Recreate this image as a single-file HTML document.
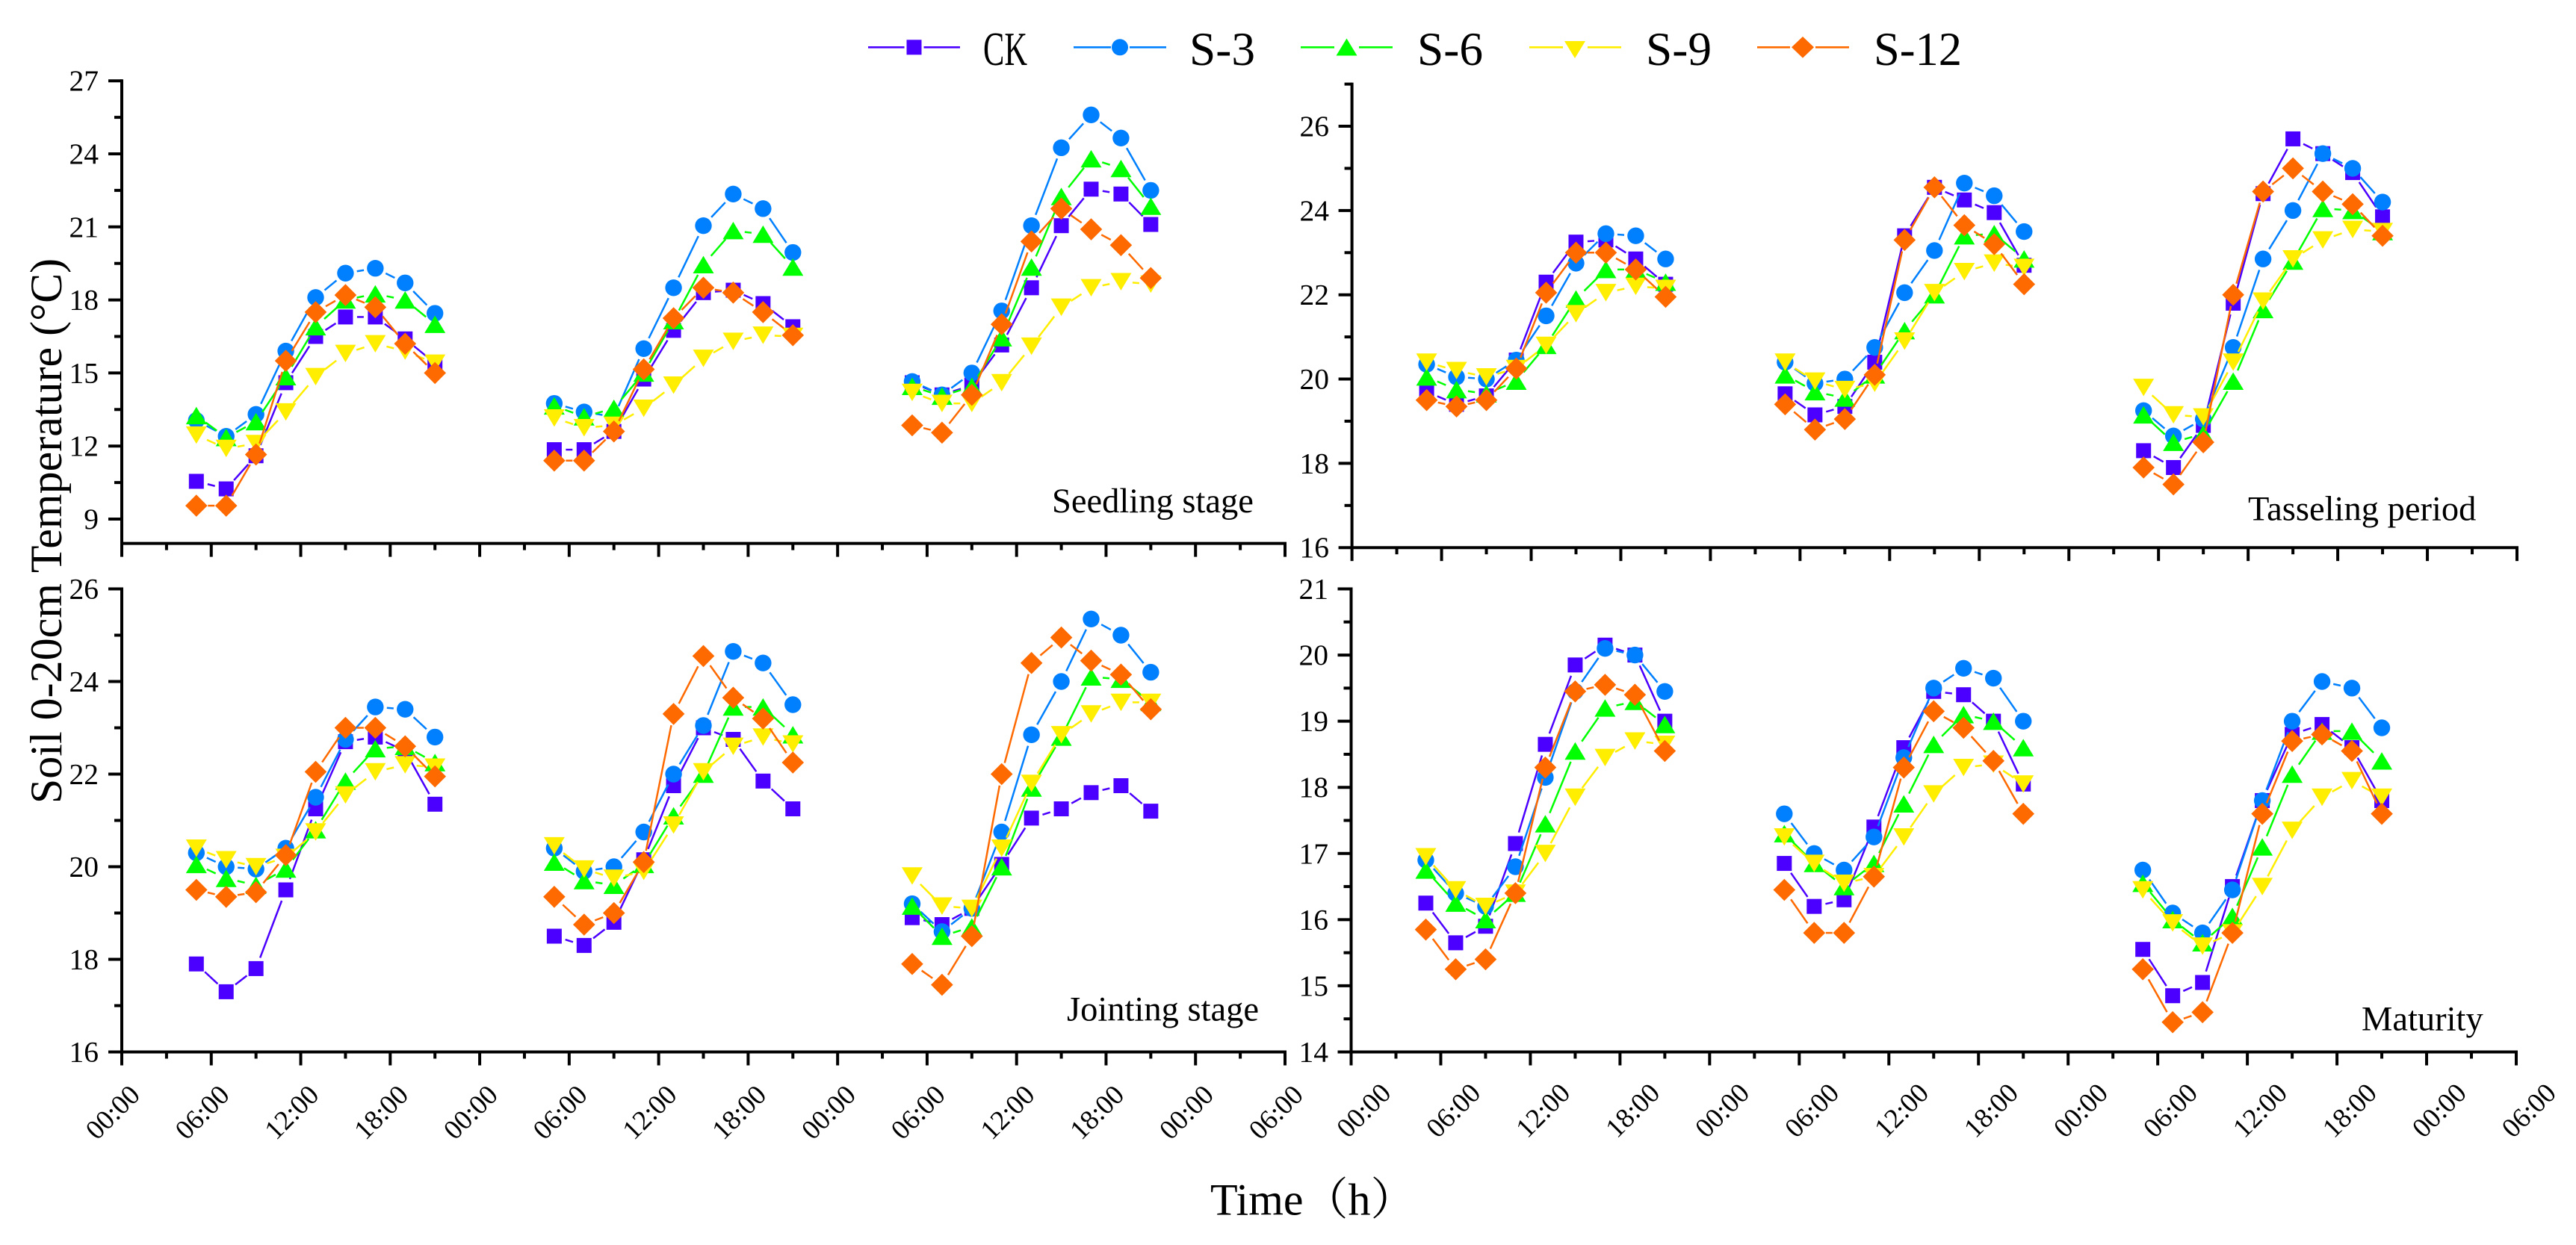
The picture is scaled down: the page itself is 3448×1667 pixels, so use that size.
<!DOCTYPE html>
<html lang="en">
<head>
<meta charset="utf-8">
<title>Soil 0-20cm Temperature by growth stage</title>
<style>
html,body{margin:0;padding:0;background:#fff;}
svg{display:block;}
text{font-family:"Liberation Serif","Noto Serif CJK SC",serif;fill:#000;}
</style>
</head>
<body>
<svg id="chart" xmlns="http://www.w3.org/2000/svg" width="3448" height="1667" viewBox="0 0 3448 1667">
  <rect x="0" y="0" width="3448" height="1667" fill="#ffffff"/>

  <g>
    <g>
      <line x1="1162" y1="63.3" x2="1210.5" y2="63.3" stroke="#4B00FF" stroke-width="2.6"/>
      <line x1="1236.5" y1="63.3" x2="1285" y2="63.3" stroke="#4B00FF" stroke-width="2.6"/>
      <rect x="1213.5" y="53.3" width="20" height="20" fill="#4B00FF"/>
      <text x="1316" y="87" font-size="64" textLength="59" lengthAdjust="spacingAndGlyphs">CK</text>
    </g>
    <g>
      <line x1="1437" y1="63.3" x2="1487" y2="63.3" stroke="#007FFF" stroke-width="2.6"/>
      <line x1="1512" y1="63.3" x2="1561" y2="63.3" stroke="#007FFF" stroke-width="2.6"/>
      <circle cx="1499" cy="63.3" r="11" fill="#007FFF"/>
      <text x="1592" y="87" font-size="64" textLength="88" lengthAdjust="spacingAndGlyphs">S-3</text>
    </g>
    <g>
      <line x1="1741" y1="63.3" x2="1786" y2="63.3" stroke="#00FF00" stroke-width="2.6"/>
      <line x1="1819" y1="63.3" x2="1864" y2="63.3" stroke="#00FF00" stroke-width="2.6"/>
      <polygon points="1802.5,51.5 1816.5,74.5 1788.5,74.5" fill="#00FF00"/>
      <text x="1897" y="87" font-size="64" textLength="88" lengthAdjust="spacingAndGlyphs">S-6</text>
    </g>
    <g>
      <line x1="2047" y1="63.3" x2="2092" y2="63.3" stroke="#FFEE00" stroke-width="2.6"/>
      <line x1="2125" y1="63.3" x2="2170" y2="63.3" stroke="#FFEE00" stroke-width="2.6"/>
      <polygon points="2108,78 2094,55 2122,55" fill="#FFEE00"/>
      <text x="2203" y="87" font-size="64" textLength="88" lengthAdjust="spacingAndGlyphs">S-9</text>
    </g>
    <g>
      <line x1="2352" y1="63.3" x2="2396" y2="63.3" stroke="#FF6A00" stroke-width="2.6"/>
      <line x1="2430" y1="63.3" x2="2475" y2="63.3" stroke="#FF6A00" stroke-width="2.6"/>
      <polygon points="2413,49 2428,63.3 2413,77.6 2398,63.3" fill="#FF6A00"/>
      <text x="2508" y="87" font-size="64" textLength="118" lengthAdjust="spacingAndGlyphs">S-12</text>
    </g>
  </g>

  <g id="panel-seedling"></g>
  <g id="panel-tasseling"></g>
  <g id="panel-jointing"></g>
  <g id="panel-maturity"></g>

  <text x="1408" y="686" font-size="46.5">Seedling stage</text>
  <text x="3009" y="696.5" font-size="46.5">Tasseling period</text>
  <text x="1428" y="1366.5" font-size="46.5">Jointing stage</text>
  <text x="3161" y="1379.5" font-size="46.5">Maturity</text>

  <text transform="translate(82,711) rotate(-90)" text-anchor="middle" font-size="60">Soil 0-20cm Temperature (°C)</text>
  <text x="1620" y="1626.5" font-size="60">Time（h）</text>
</svg>

<script>
// Sampling hours within each day, and the day offsets (hours) of the three runs
const sampleHours = [5, 7, 9, 11, 13, 15, 17, 19, 21];
const dayOffsets = [0, 24, 48];

// X axis tick labels (every 6 h from 0 to 78)
const xTickLabels = ['00:00','06:00','12:00','18:00','00:00','06:00','12:00','18:00','00:00','06:00','12:00','18:00','00:00','06:00'];

// Y axis tick labels
const seedlingTicks = [9, 12, 15, 18, 21, 24, 27];
const tasselingTicks = [16, 18, 20, 22, 24, 26];
const jointingTicks = [16, 18, 20, 22, 24, 26];
const maturityTicks = [14, 15, 16, 17, 18, 19, 20, 21];

// Seedling stage
const seedlingCK  = [10.55,10.24,11.6,14.6,16.5,17.3,17.3,16.4,15.4, 11.85,11.85,12.6,14.75,16.75,18.3,18.4,17.85,16.9, 14.6,14.1,14.5,16.15,18.5,21.05,22.55,22.35,21.1];
const seedlingS3  = [13.05,12.4,13.3,15.9,18.1,19.1,19.3,18.7,17.45, 13.75,13.4,13.2,16,18.5,21.05,22.35,21.75,19.95, 14.65,14.1,15,17.55,21.05,24.25,25.6,24.65,22.5];
const seedlingS6  = [13.25,12.35,13,14.85,16.9,18,18.25,18,17, 13.65,13.2,13.55,15,17.15,19.45,20.85,20.7,19.35, 14.45,14.05,14.45,16.45,19.35,22.25,23.8,23.4,21.85];
const seedlingS9  = [12.45,11.9,12.1,13.4,14.85,15.8,16.2,15.9,15.4, 13.15,12.75,12.85,13.55,14.5,15.6,16.3,16.55,16.5, 14.2,13.75,13.75,14.6,16.1,17.7,18.5,18.75,18.65];
const seedlingS12 = [9.55,9.55,11.65,15.5,17.5,18.2,17.7,16.2,15, 11.4,11.4,12.6,15.15,17.25,18.5,18.3,17.5,16.55, 12.85,12.55,14.1,17,20.4,21.75,20.9,20.25,18.9];

// Tasseling period
const tasselingCK  = [19.7,19.4,19.6,20.45,22.3,23.25,23.3,22.85,22.25, 19.65,19.15,19.35,20.4,23.4,24.55,24.25,23.95,22.7, 18.3,17.9,18.9,21.8,24.4,25.7,25.35,24.9,23.85];
const tasselingS3  = [20.35,20.05,20,20.45,21.5,22.75,23.45,23.4,22.85, 20.4,19.9,20,20.75,22.05,23.05,24.65,24.35,23.5, 19.25,18.65,19.05,20.75,22.85,24,25.35,25,24.2];
const tasselingS6  = [20.05,19.75,19.65,19.95,20.8,21.9,22.6,22.6,22.3, 20.1,19.7,19.55,20.1,21.15,22,23.4,23.45,22.85, 19.15,18.5,18.7,19.95,21.65,22.8,24.05,24,23.5];
const tasselingS9  = [20.4,20.2,20.05,20.25,20.8,21.55,22.05,22.2,22.15, 20.4,19.95,19.75,19.9,20.9,22.05,22.55,22.75,22.65, 19.8,19.15,19.1,20.4,21.85,22.85,23.3,23.55,23.5];
const tasselingS12 = [19.5,19.35,19.5,20.25,22.05,23,23,22.6,21.95, 19.4,18.8,19.05,20.1,23.3,24.55,23.65,23.2,22.25, 17.9,17.5,18.5,22,24.45,25,24.45,24.15,23.4];

// Jointing stage
const jointingCK  = [17.9,17.3,17.8,19.5,21.25,22.7,22.8,22.5,21.35, 18.5,18.3,18.8,20.15,21.75,23,22.75,21.85,21.25, 18.9,18.75,19.1,20.05,21.05,21.25,21.6,21.75,21.2];
const jointingS3  = [20.3,20,19.95,20.4,21.5,22.75,23.45,23.4,22.8, 20.4,19.9,20,20.75,22,23.05,24.65,24.4,23.5, 19.2,18.6,19.1,20.75,22.85,24,25.35,25,24.2];
const jointingS6  = [20.05,19.75,19.6,19.95,20.8,21.85,22.55,22.6,22.25, 20.1,19.7,19.6,20.05,21.1,22,23.45,23.45,22.85, 19.15,18.5,18.7,20,21.7,22.8,24.1,24.05,23.55];
const jointingS9  = [20.4,20.15,20,20.2,20.75,21.55,22.05,22.2,22.15, 20.45,19.95,19.75,19.9,20.9,22.05,22.6,22.8,22.65, 19.8,19.15,19.1,20.4,21.8,22.85,23.3,23.55,23.55];
const jointingS12 = [19.5,19.35,19.45,20.25,22.05,23,23,22.6,21.95, 19.35,18.75,19,20.1,23.3,24.55,23.65,23.2,22.25, 17.9,17.45,18.5,22,24.4,24.95,24.45,24.15,23.4];

// Maturity
const maturityCK  = [16.25,15.65,15.9,17.15,18.65,19.85,20.15,20,19, 16.85,16.2,16.3,17.4,18.6,19.45,19.4,19,18.05, 15.55,14.85,15.05,16.5,17.8,18.8,18.95,18.6,17.8];
const maturityS3  = [16.9,16.4,16.2,16.8,18.15,19.45,20.1,20,19.45, 17.6,17,16.75,17.25,18.45,19.5,19.8,19.65,19, 16.75,16.1,15.8,16.45,17.8,19,19.6,19.5,18.9];
const maturityS6  = [16.75,16.25,16,16.4,17.45,18.55,19.2,19.3,18.95, 17.3,16.85,16.5,16.85,17.75,18.65,19.1,19,18.6, 16.55,16,15.65,16.05,17.1,18.2,18.85,18.85,18.4];
const maturityS9  = [16.95,16.45,16.2,16.4,17,17.85,18.45,18.7,18.65, 17.25,16.85,16.55,16.65,17.25,17.9,18.3,18.35,18.05, 16.45,15.95,15.6,15.8,16.5,17.35,17.85,18.1,17.85];
const maturityS12 = [15.85,15.25,15.4,16.4,18.3,19.45,19.55,19.4,18.55, 16.45,15.8,15.8,16.65,18.3,19.15,18.9,18.4,17.6, 15.25,14.45,14.6,15.8,17.6,18.7,18.8,18.55,17.6];

const NS = 'http://www.w3.org/2000/svg';
const AXIS_MAX_HOURS = 78;
const SEGMENT_GAP = 15.5;
const COLORS = { ck: '#4B00FF', s3: '#007FFF', s6: '#00FF00', s9: '#FFEE00', s12: '#FF6A00' };

function svgEl(tag) {
  return document.createElementNS(NS, tag);
}

function drawSquare(g, cx, cy) {
  const el = svgEl('rect');
  el.setAttribute('x', cx - 10);
  el.setAttribute('y', cy - 10);
  el.setAttribute('width', 20);
  el.setAttribute('height', 20);
  el.setAttribute('fill', COLORS.ck);
  
  
  g.appendChild(el);
}

function drawCircle(g, cx, cy) {
  const el = svgEl('circle');
  el.setAttribute('cx', cx);
  el.setAttribute('cy', cy);
  el.setAttribute('r', 11.2);
  el.setAttribute('fill', COLORS.s3);
  
  
  g.appendChild(el);
}

function drawTriangle(g, cx, cy) {
  const el = svgEl('polygon');
  el.setAttribute('points', cx + ',' + (cy - 11.7) + ' ' + (cx + 14) + ',' + (cy + 11.7) + ' ' + (cx - 14) + ',' + (cy + 11.7));
  el.setAttribute('fill', COLORS.s6);
  
  
  g.appendChild(el);
}

function drawInvertedTriangle(g, cx, cy) {
  const el = svgEl('polygon');
  el.setAttribute('points', cx + ',' + (cy + 11.7) + ' ' + (cx + 14) + ',' + (cy - 11.7) + ' ' + (cx - 14) + ',' + (cy - 11.7));
  el.setAttribute('fill', COLORS.s9);
  
  
  g.appendChild(el);
}

function drawDiamond(g, cx, cy) {
  const el = svgEl('polygon');
  el.setAttribute('points', cx + ',' + (cy - 14.8) + ' ' + (cx + 14.8) + ',' + cy + ' ' + cx + ',' + (cy + 14.8) + ' ' + (cx - 14.8) + ',' + cy);
  el.setAttribute('fill', COLORS.s12);
  
  
  g.appendChild(el);
}

function drawSegment(g, x1, y1, x2, y2, color) {
  const dx = x2 - x1;
  const dy = y2 - y1;
  const len = Math.sqrt(dx * dx + dy * dy);
  if (len <= SEGMENT_GAP * 2 + 1) return;
  const ux = dx / len;
  const uy = dy / len;
  const el = svgEl('line');
  el.setAttribute('x1', x1 + ux * SEGMENT_GAP);
  el.setAttribute('y1', y1 + uy * SEGMENT_GAP);
  el.setAttribute('x2', x2 - ux * SEGMENT_GAP);
  el.setAttribute('y2', y2 - uy * SEGMENT_GAP);
  el.setAttribute('stroke', color);
  el.setAttribute('stroke-width', 2.5);
  
  
  g.appendChild(el);
}

function drawSeries(g, values, xScale, yScale, color, drawMarker, name) {
  const group = svgEl('g');
  
  
  g.appendChild(group);
  const n = sampleHours.length;
  dayOffsets.forEach(function (offset, d) {
    for (let i = 0; i < n - 1; i++) {
      drawSegment(group,
        xScale(offset + sampleHours[i]), yScale(values[d * n + i]),
        xScale(offset + sampleHours[i + 1]), yScale(values[d * n + i + 1]), color);
    }
  });
  dayOffsets.forEach(function (offset, d) {
    for (let i = 0; i < n; i++) {
      drawMarker(group, xScale(offset + sampleHours[i]), yScale(values[d * n + i]));
    }
  });
}

function drawAxisLine(g, x1, y1, x2, y2) {
  const el = svgEl('line');
  el.setAttribute('x1', x1);
  el.setAttribute('y1', y1);
  el.setAttribute('x2', x2);
  el.setAttribute('y2', y2);
  el.setAttribute('stroke', '#000');
  el.setAttribute('stroke-width', 4);
  
  
  g.appendChild(el);
}

function drawTick(g, x1, y1, x2, y2) {
  const el = svgEl('line');
  el.setAttribute('x1', x1);
  el.setAttribute('y1', y1);
  el.setAttribute('x2', x2);
  el.setAttribute('y2', y2);
  el.setAttribute('stroke', '#000');
  el.setAttribute('stroke-width', 4);
  
  
  g.appendChild(el);
}

function drawPanel(cfg) {
  const g = document.getElementById(cfg.id);
  const xScale = function (h) { return cfg.left + (h / AXIS_MAX_HOURS) * (cfg.right - cfg.left); };
  const yScale = function (v) { return cfg.bottom - ((v - cfg.yMin) / (cfg.yMax - cfg.yMin)) * (cfg.bottom - cfg.top); };

  // axes
  drawAxisLine(g, cfg.left, cfg.top - 2, cfg.left, cfg.bottom + 2);
  drawAxisLine(g, cfg.left, cfg.bottom, cfg.right + 2, cfg.bottom);

  // y ticks (major + minor at half steps)
  for (let i = 0; i < cfg.ticks.length; i++) {
    const v = cfg.ticks[i];
    drawTick(g, cfg.left - 18, yScale(v), cfg.left, yScale(v));
    const label = svgEl('text');
    label.setAttribute('x', cfg.yLabelRight);
    label.setAttribute('y', yScale(v) + 13);
    label.setAttribute('text-anchor', 'end');
    label.setAttribute('font-size', 39.5);
    
    
    label.textContent = String(v);
    g.appendChild(label);
  }
  for (let m = cfg.ticks[0] - cfg.step / 2; m <= cfg.yMax + 1e-6; m += cfg.step) {
    if (m >= cfg.yMin - 1e-6) drawTick(g, cfg.left - 10, yScale(m), cfg.left, yScale(m));
  }

  // x ticks
  for (let i = 0; i < xTickLabels.length; i++) {
    const h = i * 6;
    drawTick(g, xScale(h), cfg.bottom, xScale(h), cfg.bottom + 18);
    if (i < xTickLabels.length - 1) {
      drawTick(g, xScale(h + 3), cfg.bottom, xScale(h + 3), cfg.bottom + 9);
    }
    if (cfg.showXLabels) {
      const label = svgEl('text');
      label.setAttribute('transform', 'translate(' + (xScale(h) + cfg.xLabelDx) + ',' + cfg.xLabelY + ') rotate(-45)');
      label.setAttribute('y', 12);
      label.setAttribute('text-anchor', 'middle');
      label.setAttribute('font-size', 37);
      
      
      label.textContent = xTickLabels[i];
      g.appendChild(label);
    }
  }

  // series, in legend order so S-12 sits on top
  drawSeries(g, cfg.ck, xScale, yScale, COLORS.ck, drawSquare, 'series-ck');
  drawSeries(g, cfg.s3, xScale, yScale, COLORS.s3, drawCircle, 'series-s3');
  drawSeries(g, cfg.s6, xScale, yScale, COLORS.s6, drawTriangle, 'series-s6');
  drawSeries(g, cfg.s9, xScale, yScale, COLORS.s9, drawInvertedTriangle, 'series-s9');
  drawSeries(g, cfg.s12, xScale, yScale, COLORS.s12, drawDiamond, 'series-s12');
}

drawPanel({ id: 'panel-seedling', left: 163, right: 1720, top: 108.2, bottom: 727.6, yMin: 8, yMax: 27, step: 3,
  ticks: seedlingTicks, yLabelRight: 132, showXLabels: false,
  ck: seedlingCK, s3: seedlingS3, s6: seedlingS6, s9: seedlingS9, s12: seedlingS12 });

drawPanel({ id: 'panel-tasseling', left: 1809.6, right: 3369, top: 112.6, bottom: 733.2, yMin: 16, yMax: 27, step: 2,
  ticks: tasselingTicks, yLabelRight: 1779, showXLabels: false,
  ck: tasselingCK, s3: tasselingS3, s6: tasselingS6, s9: tasselingS9, s12: tasselingS12 });

drawPanel({ id: 'panel-jointing', left: 163, right: 1720, top: 788.5, bottom: 1408.5, yMin: 16, yMax: 26, step: 2,
  ticks: jointingTicks, yLabelRight: 132, showXLabels: true, xLabelDx: -12, xLabelY: 1489.5,
  ck: jointingCK, s3: jointingS3, s6: jointingS6, s9: jointingS9, s12: jointingS12 });

drawPanel({ id: 'panel-maturity', left: 1808.5, right: 3368, top: 788.5, bottom: 1408.5, yMin: 14, yMax: 21, step: 1,
  ticks: maturityTicks, yLabelRight: 1778, showXLabels: true, xLabelDx: 17, xLabelY: 1487,
  ck: maturityCK, s3: maturityS3, s6: maturityS6, s9: maturityS9, s12: maturityS12 });
</script>
</body>
</html>
